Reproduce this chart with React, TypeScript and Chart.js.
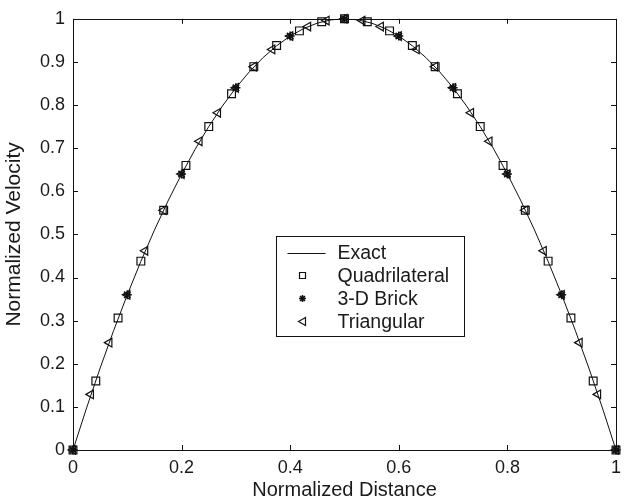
import React, { useEffect, useRef } from 'react';
import { Chart, registerables } from 'chart.js';

Chart.register(...registerables);

// Exact solution curve (sampled)
const exactX = [0, 0.025, 0.05, 0.075, 0.1, 0.125, 0.15, 0.175, 0.2, 0.225, 0.25, 0.275, 0.3, 0.325, 0.35, 0.375, 0.4, 0.425, 0.45, 0.475, 0.5,
  0.525, 0.55, 0.575, 0.6, 0.625, 0.65, 0.675, 0.7, 0.725, 0.75, 0.775, 0.8, 0.825, 0.85, 0.875, 0.9, 0.925, 0.95, 0.975, 1];
const exactY = [0, 0.0975, 0.19, 0.2775, 0.36, 0.4375, 0.51, 0.5775, 0.64, 0.6975, 0.75, 0.7975, 0.84, 0.8775, 0.91, 0.9375, 0.96, 0.9775, 0.99, 0.9975, 1,
  0.9975, 0.99, 0.9775, 0.96, 0.9375, 0.91, 0.8775, 0.84, 0.7975, 0.75, 0.6975, 0.64, 0.5775, 0.51, 0.4375, 0.36, 0.2775, 0.19, 0.0975, 0];

// Quadrilateral elements
const quadX = [0, 0.042, 0.083, 0.125, 0.167, 0.208, 0.25, 0.292, 0.333, 0.375, 0.417, 0.458, 0.5,
  0.542, 0.583, 0.625, 0.667, 0.708, 0.75, 0.792, 0.833, 0.875, 0.917, 0.958, 1];
const quadY = [0, 0.16, 0.306, 0.438, 0.556, 0.66, 0.75, 0.826, 0.889, 0.938, 0.972, 0.993, 1,
  0.993, 0.972, 0.938, 0.889, 0.826, 0.75, 0.66, 0.556, 0.438, 0.306, 0.16, 0];

// 3-D Brick elements
const brickX = [0, 0.1, 0.2, 0.3, 0.4, 0.5, 0.6, 0.7, 0.8, 0.9, 1];
const brickY = [0, 0.36, 0.64, 0.84, 0.96, 1, 0.96, 0.84, 0.64, 0.36, 0];

// Triangular elements
const triX = [0, 0.033, 0.067, 0.1, 0.133, 0.167, 0.2, 0.233, 0.267, 0.3, 0.333, 0.367, 0.4, 0.433, 0.467, 0.5,
  0.533, 0.567, 0.6, 0.633, 0.667, 0.7, 0.733, 0.767, 0.8, 0.833, 0.867, 0.9, 0.933, 0.967, 1];
const triY = [0, 0.129, 0.249, 0.36, 0.462, 0.556, 0.64, 0.716, 0.782, 0.84, 0.889, 0.929, 0.96, 0.982, 0.996, 1,
  0.996, 0.982, 0.96, 0.929, 0.889, 0.84, 0.782, 0.716, 0.64, 0.556, 0.462, 0.36, 0.249, 0.129, 0];

const xTicks = [0, 0.2, 0.4, 0.6, 0.8, 1];
const yTicks = [0, 0.1, 0.2, 0.3, 0.4, 0.5, 0.6, 0.7, 0.8, 0.9, 1];
const legendLabels = ['Exact', 'Quadrilateral', '3-D Brick', 'Triangular'];

const FONT = "'Liberation Sans', Arial, sans-serif";
const INK = '#111';
const TEXT = '#1a1a1a';

const toPts = (xs: number[], ys: number[]) => xs.map((x, i) => ({ x, y: ys[i] }));

function drawMarker(ctx: CanvasRenderingContext2D, kind: string, cx: number, cy: number) {
  ctx.beginPath();
  if (kind === 'rect') {
    ctx.lineWidth = 1.2;
    ctx.rect(cx - 3, cy - 3, 6, 6);
  } else if (kind === 'star') {
    ctx.lineWidth = 1.6;
    const r = 3.5;
    ctx.moveTo(cx - r, cy); ctx.lineTo(cx + r, cy);
    ctx.moveTo(cx, cy - r); ctx.lineTo(cx, cy + r);
    const d = r * Math.SQRT1_2;
    ctx.moveTo(cx - d, cy - d); ctx.lineTo(cx + d, cy + d);
    ctx.moveTo(cx - d, cy + d); ctx.lineTo(cx + d, cy - d);
  } else if (kind === 'tri') {
    ctx.lineWidth = 1.2;
    ctx.moveTo(cx - 4, cy);
    ctx.lineTo(cx + 3, cy - 4);
    ctx.lineTo(cx + 3, cy + 4);
    ctx.closePath();
  }
  ctx.stroke();
}

const framePlugin = {
  id: 'frameAndLegend',
  afterDatasetsDraw(chart: any) {
    const { ctx, chartArea: a, scales } = chart;
    const x = scales.x;
    const y = scales.y;
    ctx.save();
    ctx.strokeStyle = INK;
    ctx.lineWidth = 1;
    ctx.strokeRect(Math.round(a.left) + 0.5, Math.round(a.top) + 0.5, Math.round(a.right - a.left), Math.round(a.bottom - a.top));
    const L = 5;
    ctx.beginPath();
    for (const v of xTicks) {
      const px = Math.round(x.getPixelForValue(v)) + 0.5;
      ctx.moveTo(px, a.bottom); ctx.lineTo(px, a.bottom - L);
      ctx.moveTo(px, a.top); ctx.lineTo(px, a.top + L);
    }
    for (const v of yTicks) {
      const py = Math.round(y.getPixelForValue(v)) + 0.5;
      ctx.moveTo(a.left, py); ctx.lineTo(a.left + L, py);
      ctx.moveTo(a.right, py); ctx.lineTo(a.right - L, py);
    }
    ctx.stroke();

    // legend box
    const bx = Math.round(a.left + 203) + 0.5;
    const by = Math.round(a.top + 217) + 0.5;
    const bw = 188;
    const bh = 100;
    ctx.fillStyle = '#fff';
    ctx.fillRect(bx, by, bw, bh);
    ctx.lineWidth = 1;
    ctx.strokeRect(bx, by, bw, bh);
    ctx.font = `19.5px ${FONT}`;
    ctx.textBaseline = 'middle';
    ctx.textAlign = 'left';
    const kinds = ['line', 'rect', 'star', 'tri'];
    legendLabels.forEach((lab, i) => {
      const ry = by + 16 + i * 23;
      const mx = bx + 26;
      ctx.strokeStyle = INK;
      if (kinds[i] === 'line') {
        ctx.lineWidth = 1;
        ctx.beginPath();
        ctx.moveTo(bx + 11, Math.round(ry) + 0.5);
        ctx.lineTo(bx + 49, Math.round(ry) + 0.5);
        ctx.stroke();
      } else {
        drawMarker(ctx, kinds[i], mx, ry);
      }
      ctx.fillStyle = TEXT;
      ctx.fillText(lab, bx + 61, ry + 1);
    });
    ctx.restore();
  },
};

export default function App() {
  const ref = useRef<HTMLCanvasElement | null>(null);

  useEffect(() => {
    if (!ref.current) return;
    const chart = new Chart(ref.current, {
      type: 'scatter',
      data: {
        datasets: [
          {
            label: 'Exact',
            data: toPts(exactX, exactY),
            showLine: true,
            borderColor: INK,
            borderWidth: 1,
            pointRadius: 0,
            tension: 0,
          },
          {
            label: 'Quadrilateral',
            data: toPts(quadX, quadY),
            showLine: false,
            clip: false,
            pointStyle: 'rect',
            pointRadius: 5.5,
            pointBorderWidth: 1.2,
            pointBorderColor: INK,
            pointBackgroundColor: 'rgba(0,0,0,0)',
          },
          {
            label: '3-D Brick',
            data: toPts(brickX, brickY),
            showLine: false,
            clip: false,
            pointStyle: 'star',
            pointRadius: 4.5,
            pointBorderWidth: 1.6,
            pointBorderColor: INK,
            pointBackgroundColor: 'rgba(0,0,0,0)',
          },
          {
            label: 'Triangular',
            data: toPts(triX, triY),
            showLine: false,
            clip: false,
            pointStyle: 'triangle',
            pointRotation: -90,
            pointRadius: 5,
            pointBorderWidth: 1.2,
            pointBorderColor: INK,
            pointBackgroundColor: 'rgba(0,0,0,0)',
          },
        ],
      },
      options: {
        animation: false,
        responsive: false,
        maintainAspectRatio: false,
        layout: { padding: { top: 16, right: 8, left: 0, bottom: 0 } },
        plugins: {
          legend: { display: false },
          tooltip: { enabled: false },
        },
        scales: {
          x: {
            type: 'linear',
            min: 0,
            max: 1,
            afterBuildTicks: (s: any) => { s.ticks = xTicks.map((v) => ({ value: v })); },
            afterFit: (s: any) => { s.height = 53; },
            grid: { display: false, drawTicks: false },
            border: { display: false },
            ticks: {
              color: TEXT,
              font: { family: FONT, size: 18 },
              padding: 7,
              maxRotation: 0,
              callback: (v: any) => String(v),
            },
            title: {
              display: true,
              text: 'Normalized Distance',
              color: TEXT,
              font: { family: FONT, size: 20 },
              padding: { top: 0, bottom: 1 },
            },
          },
          y: {
            type: 'linear',
            min: 0,
            max: 1,
            afterBuildTicks: (s: any) => { s.ticks = yTicks.map((v) => ({ value: v })); },
            afterFit: (s: any) => { s.width = 73; },
            grid: { display: false, drawTicks: false },
            border: { display: false },
            ticks: {
              color: TEXT,
              font: { family: FONT, size: 18 },
              padding: 8,
              callback: (v: any) => String(v),
            },
            title: {
              display: true,
              text: 'Normalized Velocity',
              color: TEXT,
              font: { family: FONT, size: 21 },
              padding: { top: 2, bottom: 0 },
            },
          },
        },
      },
      plugins: [framePlugin],
    });
    return () => chart.destroy();
  }, []);

  return (
    <div style={{ position: 'fixed', left: 0, top: 0, width: 628, height: 503, background: '#fff' }}>
      <canvas ref={ref} width={628} height={503} style={{ display: 'block', width: 628, height: 503 }} />
    </div>
  );
}
